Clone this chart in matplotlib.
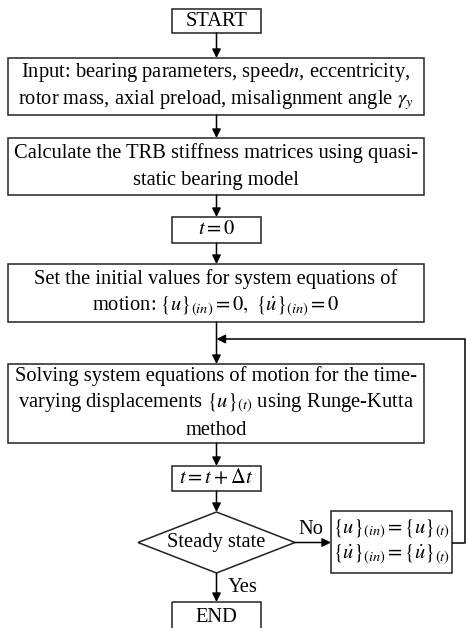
import matplotlib
matplotlib.use("Agg")
import matplotlib.pyplot as plt
from matplotlib.patches import Rectangle, Polygon

plt.rcParams["font.family"] = ["Liberation Serif", "DejaVu Serif"]
plt.rcParams["mathtext.fontset"] = "stix"

# node texts (top to bottom)
start_text = "START"
input_lines = ["Input: bearing parameters, speed$n$, eccentricity,",
               r"rotor mass, axial preload, misalignment angle $\gamma_y$"]
calc_lines = ["Calculate the TRB stiffness matrices using quasi-",
              "static bearing model"]
t0_text = r"$t = 0$"
init_lines = ["Set the initial values for system equations of",
              r"motion: $\{u\}_{(in)} = 0,\ \{\dot{u}\}_{(in)} = 0$"]
solve_lines = ["Solving system equations of motion for the time-",
               r"varying displacements $\{u\}_{(t)}$ using Runge-Kutta",
               "method"]
step_text = r"$t = t + \Delta t$"
decision_text = "Steady state"
update_lines = [r"$\{u\}_{(in)} = \{u\}_{(t)}$",
                r"$\{\dot{u}\}_{(in)} = \{\dot{u}\}_{(t)}$"]
end_text = "END"
no_label = "No"
yes_label = "Yes"

W, H = 466, 628
FS = 14.8
LINE = 27
CX = 216.5
EC = "#222222"

fig = plt.figure(figsize=(W / 100, H / 100), dpi=100)
ax = fig.add_axes([0, 0, 1, 1])
ax.set_xlim(0, W)
ax.set_ylim(H, 0)
ax.axis("off")


def box(x0, y0, x1, y1, lines, fs=FS, step=LINE):
    ax.add_patch(Rectangle((x0, y0), x1 - x0, y1 - y0, fill=False,
                           lw=1.1, ec=EC))
    n = len(lines)
    cy = (y0 + y1) / 2
    for i, s in enumerate(lines):
        y = cy + (i - (n - 1) / 2) * step
        ax.text((x0 + x1) / 2, y, s, ha="center", va="center",
                fontsize=fs, color="black")


def arrow(x0, y0, x1, y1):
    ax.annotate("", xy=(x1, y1), xytext=(x0, y0),
                arrowprops=dict(arrowstyle="-|>", lw=1.1, color="black",
                                mutation_scale=13, shrinkA=0, shrinkB=0))


def line(xs, ys):
    ax.plot(xs, ys, color="black", lw=1.1, solid_capstyle="butt")


box(172, 9, 261, 33, [start_text])
arrow(CX, 33, CX, 58)
box(8, 58, 424, 115, input_lines)
arrow(CX, 115, CX, 138)
box(8, 138, 424, 195, calc_lines)
arrow(CX, 195, CX, 217)
box(172, 217, 261, 243, [t0_text])
arrow(CX, 243, CX, 264)
box(8, 264, 424, 322, init_lines)
arrow(CX, 322, CX, 364)
box(8, 364, 424, 443, solve_lines)
arrow(CX, 443, CX, 466)
box(172, 466, 261, 491, [step_text])
arrow(CX, 491, CX, 512)

# decision diamond
dcx, dcy, dw, dh = CX, 542.5, 78.5, 30.5
ax.add_patch(Polygon([(dcx, dcy - dh), (dcx + dw, dcy), (dcx, dcy + dh),
                      (dcx - dw, dcy)], closed=True, fill=False, lw=1.1, ec=EC))
ax.text(dcx, dcy, decision_text, ha="center", va="center", fontsize=FS)

# No branch
arrow(dcx + dw, dcy, 331, dcy)
ax.text(311, 530, no_label, ha="center", va="center", fontsize=FS)
box(331, 511, 452, 573, update_lines, step=26)

# feedback loop
line([452, 465, 465], [dcy, dcy, 339])
arrow(465, 339, CX, 339)

# Yes branch
arrow(CX, dcy + dh, CX, 602)
ax.text(243, 587, yes_label, ha="center", va="center", fontsize=FS)
box(172, 602, 261, 632, [end_text])

fig.savefig("out.png", dpi=100)
